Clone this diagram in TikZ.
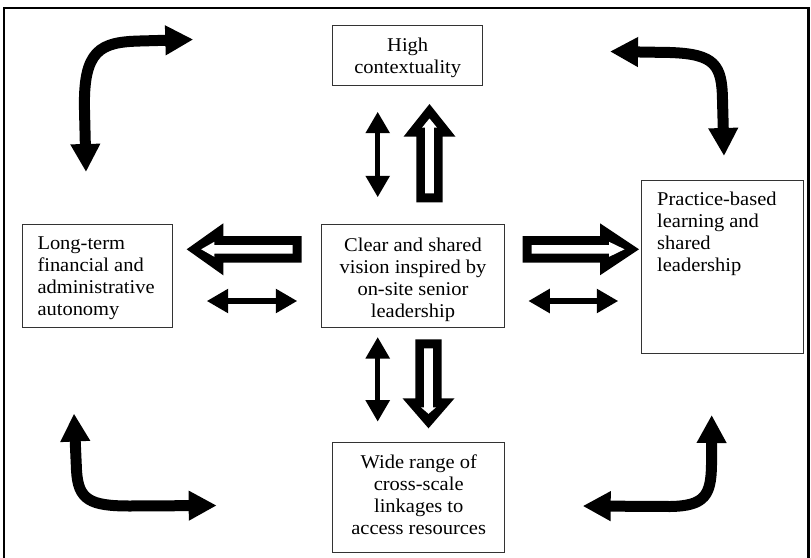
\documentclass[tikz,border=0pt]{standalone}
\usepackage{fontspec}
\setmainfont{Liberation Serif}[FakeStretch=1.05]
\usetikzlibrary{arrows.meta,calc}
\newcommand\tstrut{\rule{0pt}{14pt}}
\tikzset{
  pics/hollow/.style 2 args={code={
    \fill[black] (0,-13.2) -- ({#1-#2},-13.2) -- ({#1-#2},-26) -- (#1,0)
      -- ({#1-#2},26) -- ({#1-#2},13.2) -- (0,13.2) -- cycle;
    \fill[white] (9,-4.3) -- ({#1-#2+9},-4.3) -- ({#1-#2+9},-7.5) -- ({#1-14.5},0)
      -- ({#1-#2+9},7.5) -- ({#1-#2+9},4.3) -- (9,4.3) -- cycle;
  }}
}
\begin{document}
\begin{tikzpicture}[x=1pt,y=-1pt,
  box/.style={draw=black!80, line width=1.4pt, inner sep=0pt, anchor=north west},
  txt/.style={inner sep=0pt, font=\fontsize{19.5}{22}\selectfont},
  thintwo/.style={line width=5.5pt, {Triangle[length=21.5pt,width=23pt]}-{Triangle[length=21.5pt,width=23pt]}},
  bendtwo/.style={line width=11pt, line join=round, {Triangle[length=28pt,width=28pt]}-{Triangle[length=28pt,width=28pt]}}]
\useasboundingbox (0,0) rectangle (811,557);
\fill[white] (0,0) rectangle (811,557);
\draw[line width=2.5pt] (4,8) rectangle (808.5,562);

% boxes
\node[box, minimum width=150pt, minimum height=60pt] (high) at (332,25) {};
\node[box, minimum width=183.5pt, minimum height=103pt] (vision) at (320.5,224) {};
\node[box, minimum width=150pt, minimum height=103pt] (auto) at (22,224) {};
\node[box, minimum width=162pt, minimum height=173pt] (prac) at (641,180) {};
\node[box, minimum width=172pt, minimum height=110.5pt] (link) at (332,441.5) {};

% texts
\node[txt, anchor=north, align=center] (hight) at ($(high.north)+(0,12)$) {\tstrut High\\contextuality};
\node[txt, anchor=north, align=center] (visiont) at ($(vision.north)+(0,13)$) {\tstrut Clear and shared\\vision inspired by\\on-site senior\\leadership};
\node[txt, anchor=north west, align=left] (autot) at ($(auto.north west)+(15.3,11.3)$) {\tstrut Long-term\\financial and\\administrative\\autonomy};
\node[txt, anchor=north west, align=left] (pract) at ($(prac.north west)+(16,11.3)$) {\tstrut Practice-based\\learning and\\shared\\leadership};
\node[txt, anchor=north, align=center] (linkt) at ($(link.north)+(0,13)$) {\tstrut Wide range of\\cross-scale\\linkages to\\access resources};

% hollow arrows
\pic[rotate=180] at (301.7,249.3) {hollow={115}{36.6}};
\pic at (522.5,249.3) {hollow={116.5}{39}};
\pic[rotate=90] at (429.5,202.3) {hollow={98.3}{32.7}};
\pic[rotate=-90] at (428.5,339.3) {hollow={89}{30}};

% thin double arrows
\draw[thintwo] (377.7,111.7) -- (377.7,197.3);
\draw[thintwo] (377.7,337) -- (377.7,421.7);
\draw[thintwo] (206.7,301) -- (297.3,301);
\draw[thintwo] (528.3,301) -- (618.3,301);

% corner bent arrows
\draw[bendtwo] (86,172) -- (84.5,110) .. controls (83,50) and (100,42) .. (140,41) -- (193.3,39.5);
\draw[bendtwo] (610,51.5) -- (670,52.5) .. controls (715,54) and (722,65) .. (722.5,100) -- (724,156);
\draw[bendtwo] (74,413.5) -- (76.5,470) .. controls (78,500) and (90,506) .. (130,506) -- (216.7,505.5);
\draw[bendtwo] (582.7,506) -- (670,506.5) .. controls (705,506) and (711,495) .. (711.5,465) -- (711.7,415);
\end{tikzpicture}
\end{document}
